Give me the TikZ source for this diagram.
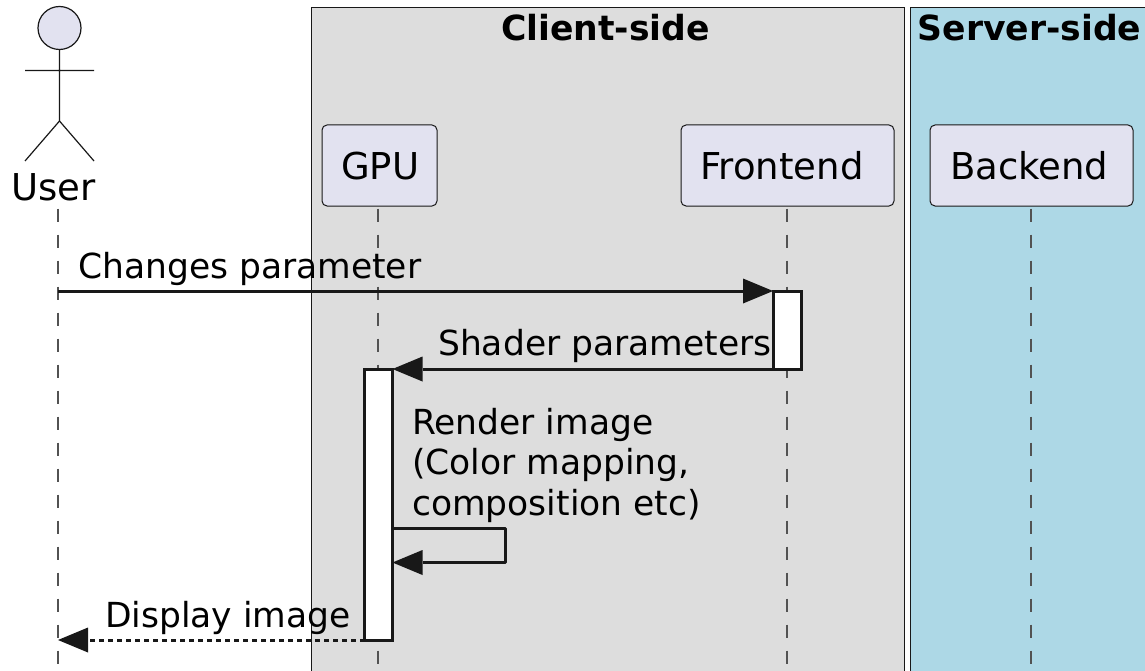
\documentclass[tikz,border=0pt]{standalone}
\usepackage{fontspec}
\setmainfont{DejaVu Sans}
\usetikzlibrary{arrows.meta}
\definecolor{partfill}{HTML}{E2E2F0}
\definecolor{clientfill}{HTML}{DDDDDD}
\definecolor{serverfill}{HTML}{ADD8E6}
\definecolor{linecol}{HTML}{181818}
\tikzset{
  x=1pt,y=-1pt,
  part/.style={draw=linecol,fill=partfill,rounded corners=5pt,line width=1pt,outer sep=0pt,minimum height=81pt,inner sep=0pt},
  box/.style={draw=linecol,line width=1pt},
  stick/.style={draw=linecol,line width=1.2pt},
  life/.style={draw=linecol!75,line width=1.3pt,dash pattern=on 13pt off 13pt},
  activ/.style={draw=linecol,fill=white,line width=3pt,outer sep=0pt,inner sep=0pt},
  msg/.style={draw=linecol,line width=3pt,-{Triangle[length=30pt,width=25pt,line width=0pt]}},
  lbl/.style={inner sep=0pt,anchor=base west,text=black,font=\fontsize{34.5}{34.5}\selectfont},
  partlbl/.style={inner sep=0pt,anchor=base west,text=black,font=\fontsize{37}{37}\selectfont},
  head/.style={inner sep=0pt,anchor=base,text=black,font=\bfseries\fontsize{34.6}{34.6}\selectfont},
}
\begin{document}
\begin{tikzpicture}
\useasboundingbox (0,0) rectangle (1145,671);
% groups
\draw[box,fill=clientfill] (311,8) rectangle (904,680);
\draw[box,fill=serverfill] (910,8) rectangle (1150,680);
\node[head] (client) at (605.5,41) {Client-side};
\node[head] (server) at (1029.5,41) {Server-side};
% lifelines
\coordinate (usertop) at (58,208.5);
\coordinate (userend) at (58,671);
\coordinate (gputop) at (378,208.5);
\coordinate (gpuend) at (378,671);
\coordinate (fronttop) at (787,208.5);
\coordinate (frontend) at (787,671);
\coordinate (backtop) at (1031,208.5);
\coordinate (backend) at (1031,671);
\draw[life] (usertop) -- (userend);
\draw[life] (gputop) -- (gpuend);
\draw[life] (fronttop) -- (frontend);
\draw[life] (backtop) -- (backend);
% participants
\node[part,minimum width=115pt] (gpu) at (379.5,165.5) {};
\node[part,minimum width=213pt] (front) at (787.5,165.5) {};
\node[part,minimum width=203pt] (back) at (1031.5,165.5) {};
\node[partlbl] (gpulbl) at (341,179) {GPU};
\node[partlbl] (frontlbl) at (700,179) {Frontend};
\node[partlbl] (backlbl) at (950,179) {Backend};
% actor
\draw[stick,fill=partfill] (59.5,28) circle (21.5);
\draw[stick] (59.5,49.5) -- (59.5,121) (25,70.5) -- (94,70.5) (59.5,121) -- (25,161) (59.5,121) -- (94,161);
\node[partlbl] (user) at (11,200.5) {User};
% activations
\node[activ,minimum width=28pt,minimum height=78pt] (act1) at (787,330) {};
\node[activ,minimum width=28pt,minimum height=271pt] (act2) at (378.5,504.5) {};
% messages
\draw[msg] (usertop |- act1.north) -- (act1.north west);
\node[lbl] (m1) at (78,278) {Changes parameter};
\draw[msg] (act1.south west) -- (act2.north east);
\node[lbl] (m2) at (438,355) {Shader parameters};
\coordinate (selfa) at (505,528);
\coordinate (selfb) at (505,562.5);
\draw[msg,-,line join=round] (act2.east |- selfa) -- (selfa) -- (selfb) -- ++(-10,0);
\draw[msg] (selfb) -- (act2.east |- selfb);
\node[lbl] (m3a) at (412,434) {Render image};
\node[lbl] (m3b) at (412,474) {(Color mapping,};
\node[lbl] (m3c) at (412,515.5) {composition etc)};
\draw[msg,dash pattern=on 5pt off 4pt] (act2.south west) -- (usertop |- act2.south);
\node[lbl] (m4) at (105,627) {Display image};
\end{tikzpicture}
\end{document}
